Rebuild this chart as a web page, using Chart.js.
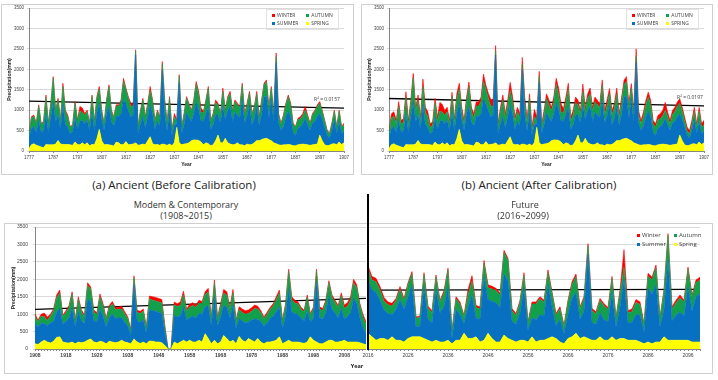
<!DOCTYPE html>
<html>
<head>
<meta charset="utf-8">
<script src="https://cdn.jsdelivr.net/npm/chart.js@4.4.0/dist/chart.umd.min.js"></script>
<style>
  body { margin: 0; background: #fff; font-family: 'Open Sans', sans-serif; }
  #page { position: relative; width: 718px; height: 380px; overflow: hidden; }
  canvas, .frame, .txt, .legend, .divider { position: absolute; }
  .frame { border: 1px solid #cfcfcf; box-sizing: border-box; }
  .txt { transform: translate(-50%, -50%); white-space: nowrap; color: #222; line-height: 1; }
  .legend { display: grid; grid-template-columns: auto auto; column-gap: 8px; row-gap: 3px;
            border: 1px solid #e2e2e2; padding: 3px 5px; color: #404040; line-height: 1; }
  .legend .sw { display: inline-block; width: 3px; height: 3px; margin-right: 2px; vertical-align: middle; }
  .divider { background: #000; }
</style>
</head>
<body>
<div id="page">
  <div class="frame" style="left:1px;top:4px;width:353px;height:171px"></div>
  <div class="frame" style="left:361px;top:4px;width:352px;height:171px"></div>
  <div class="frame" style="left:4px;top:223px;width:709px;height:151px"></div>

  <canvas id="chart-ancient" width="350" height="167" style="left:2px;top:5px"></canvas>
  <canvas id="chart-calib" width="350" height="167" style="left:362px;top:5px"></canvas>
  <canvas id="chart-modern" width="361" height="149" style="left:5px;top:224px"></canvas>
  <canvas id="chart-future" width="343" height="149" style="left:358px;top:224px"></canvas>

  <div class="legend" id="legend-ancient" style="left:266px;top:9px;font-size:5px"></div>
  <div class="legend" id="legend-calib" style="left:626px;top:9px;font-size:5px"></div>
  <div class="legend" id="legend-future" style="left:632px;top:229px;font-size:6px;border:none"></div>

  <div class="txt" style="left:327px;top:99px;font-size:5px;color:#404040">R² = 0.0157</div>
  <div class="txt" style="left:690px;top:97px;font-size:5px;color:#404040">R² = 0.0197</div>

  <div class="txt" style="left:174px;top:185px;font-size:11.5px">(a) Ancient (Before Calibration)</div>
  <div class="txt" style="left:539px;top:185px;font-size:11.5px">(b) Ancient (After Calibration)</div>
  <div class="txt" style="left:186px;top:204px;font-size:9px;color:#333">Modem &amp; Contemporary</div>
  <div class="txt" style="left:186px;top:214.5px;font-size:9px;color:#333">(1908~2015)</div>
  <div class="txt" style="left:525px;top:204px;font-size:9px;color:#333">Future</div>
  <div class="txt" style="left:523px;top:214.5px;font-size:9px;color:#333">(2016~2099)</div>
  <div class="txt" style="left:357px;top:367px;font-size:5.5px;font-weight:bold">Year</div>

  <div class="divider" style="left:367px;top:194px;width:2px;height:156px"></div>
</div>

<script>
// ===== Data (mm per season, stacked) =====
const ancientFrom = 1777, ancientTo = 1907;
const modernFrom = 1908, modernTo = 2015;
const futureFrom = 2016, futureTo = 2099;

const ancientSpring = [
  60, 150, 180, 140, 120, 100, 80, 160, 150, 150,
  150, 170, 260, 170, 160, 160, 160, 150, 140, 220,
  160, 150, 200, 150, 200, 130, 160, 150, 300, 530,
  250, 150, 160, 150, 140, 120, 220, 200, 150, 160,
  230, 150, 160, 170, 200, 140, 150, 170, 150, 250,
  350, 180, 150, 160, 140, 170, 160, 140, 170, 130,
  200, 580, 200, 150, 170, 180, 200, 250, 270, 270,
  260, 220, 150, 200, 180, 130, 150, 250, 390, 200,
  200, 310, 200, 170, 150, 160, 200, 150, 150, 130,
  170, 150, 160, 200, 260, 250, 280, 300, 310, 280,
  250, 200, 180, 150, 140, 150, 150, 160, 150, 130,
  130, 150, 160, 170, 160, 150, 140, 150, 160, 170,
  390, 250, 150, 130, 140, 170, 180, 150, 220, 160,
  200
];
const ancientSummer = [
  250, 410, 420, 320, 630, 360, 420, 750, 310, 690,
  1040, 550, 640, 360, 970, 500, 420, 280, 330, 600,
  370, 580, 550, 520, 560, 380, 780, 350, 630, 640,
  520, 360, 750, 930, 580, 490, 630, 650, 760, 1100,
  920, 840, 680, 720, 2150, 290, 520, 680, 410, 580,
  780, 730, 380, 560, 470, 1810, 750, 350, 820, 270,
  440, 100, 1480, 280, 470, 760, 630, 470, 640, 920,
  770, 520, 580, 710, 900, 400, 490, 640, 490, 490,
  910, 460, 790, 930, 570, 800, 680, 660, 1110, 560,
  690, 970, 480, 600, 840, 360, 630, 1020, 1040, 530,
  1040, 490, 1990, 540, 370, 450, 680, 820, 680, 330,
  250, 420, 430, 500, 640, 490, 370, 540, 560, 670,
  530, 520, 440, 270, 170, 340, 590, 280, 500, 270,
  290
];
const ancientAutumn = [
  100, 250, 250, 200, 350, 200, 200, 400, 200, 300,
  600, 250, 350, 200, 450, 300, 250, 150, 150, 350,
  200, 250, 200, 200, 200, 150, 400, 200, 350, 350,
  200, 150, 300, 500, 250, 200, 250, 250, 300, 450,
  350, 300, 250, 200, 100, 150, 300, 400, 250, 300,
  350, 300, 200, 250, 200, 150, 300, 200, 300, 100,
  200, 50, 150, 150, 250, 350, 300, 250, 300, 450,
  350, 200, 200, 300, 450, 200, 250, 300, 250, 200,
  350, 200, 300, 300, 250, 250, 250, 250, 350, 200,
  250, 300, 250, 250, 300, 200, 300, 300, 350, 250,
  250, 200, 150, 200, 150, 250, 300, 350, 300, 200,
  200, 200, 200, 200, 200, 200, 150, 200, 250, 250,
  250, 200, 150, 100, 100, 150, 200, 150, 250, 150,
  150
];
const ancientWinter = [
  20, 30, 30, 20, 30, 20, 20, 60, 20, 30,
  30, 30, 40, 30, 80, 40, 50, 20, 20, 40,
  30, 110, 100, 50, 40, 20, 30, 20, 50, 60,
  30, 20, 40, 40, 30, 30, 30, 30, 40, 70,
  40, 40, 80, 80, 30, 20, 30, 40, 30, 40,
  100, 40, 30, 30, 30, 60, 40, 30, 40, 20,
  80, 30, 40, 20, 30, 40, 40, 30, 40, 60,
  80, 110, 40, 40, 50, 30, 30, 60, 40, 30,
  80, 30, 40, 60, 30, 40, 40, 30, 50, 30,
  60, 40, 30, 40, 60, 30, 40, 40, 40, 30,
  40, 30, 80, 30, 20, 30, 40, 40, 40, 20,
  20, 30, 50, 50, 90, 40, 20, 30, 30, 40,
  40, 30, 20, 20, 20, 20, 30, 20, 30, 20,
  40
];
// after calibration the winter band is the part that grows
const calibWinter = [
  90, 100, 110, 90, 110, 90, 90, 140, 90, 100,
  110, 100, 120, 100, 180, 110, 130, 90, 90, 120,
  100, 210, 190, 120, 110, 90, 100, 90, 130, 140,
  100, 90, 110, 110, 100, 100, 100, 100, 110, 170,
  110, 120, 170, 180, 130, 90, 100, 120, 100, 110,
  200, 120, 100, 100, 100, 160, 110, 100, 110, 90,
  180, 100, 120, 90, 100, 110, 120, 100, 110, 140,
  160, 210, 110, 110, 130, 100, 100, 130, 110, 100,
  180, 100, 110, 140, 100, 110, 110, 100, 130, 100,
  140, 110, 100, 110, 140, 100, 110, 110, 120, 100,
  110, 100, 180, 100, 90, 100, 110, 110, 110, 90,
  90, 100, 130, 130, 190, 110, 90, 100, 100, 110,
  110, 100, 90, 90, 90, 90, 100, 90, 100, 90,
  110
];
const ancientTrend = [1220, 1050];
const calibTrend = [1285, 1105];

const modernSpring = [
  150, 130, 200, 250, 200, 170, 220, 330, 350, 200,
  180, 170, 200, 150, 200, 180, 200, 250, 290, 200,
  180, 220, 200, 150, 220, 200, 180, 200, 250, 200,
  180, 150, 290, 200, 160, 200, 150, 230, 220, 200,
  200, 180, 100, 0, 0, 200, 150, 200, 250, 200,
  250, 200, 200, 250, 200, 440, 300, 150, 250, 150,
  200, 390, 300, 200, 250, 150, 360, 250, 200, 300,
  250, 200, 300, 200, 150, 200, 200, 220, 250, 350,
  150, 200, 250, 200, 200, 200, 180, 160, 200, 350,
  250, 200, 150, 150, 200, 250, 250, 200, 200, 220,
  250, 200, 200, 200, 200, 180, 150, 120
];
const modernSummer = [
  590, 500, 540, 480, 470, 580, 570, 740, 810, 520,
  610, 720, 980, 490, 880, 630, 530, 1170, 1080, 610,
  600, 930, 740, 490, 670, 800, 700, 690, 650, 560,
  490, 230, 1550, 600, 610, 640, 300, 910, 880, 880,
  850, 840, 350, 0, 0, 770, 770, 750, 960, 640,
  650, 750, 690, 770, 800, 770, 940, 520, 1250, 520,
  720, 870, 890, 690, 1010, 440, 520, 550, 550, 470,
  580, 660, 550, 590, 520, 540, 680, 720, 820, 860,
  440, 740, 1480, 870, 820, 790, 710, 650, 890, 430,
  640, 1730, 750, 700, 840, 1250, 890, 840, 690, 960,
  610, 730, 850, 1250, 1110, 720, 470, 330
];
const modernAutumn = [
  200, 150, 200, 200, 150, 200, 300, 400, 450, 200,
  250, 300, 400, 150, 350, 250, 200, 400, 350, 250,
  200, 350, 300, 200, 300, 300, 250, 250, 250, 250,
  200, 150, 200, 250, 250, 250, 150, 300, 300, 300,
  300, 300, 150, 0, 0, 300, 300, 300, 350, 250,
  300, 300, 300, 300, 300, 350, 400, 200, 400, 200,
  300, 350, 350, 250, 350, 200, 250, 250, 250, 250,
  250, 300, 300, 250, 200, 250, 250, 300, 350, 400,
  200, 300, 500, 350, 300, 300, 250, 250, 400, 200,
  250, 300, 250, 250, 300, 400, 350, 300, 300, 350,
  300, 300, 350, 450, 450, 350, 300, 250
];
const modernWinter = [
  60, 50, 60, 100, 100, 50, 60, 80, 80, 50,
  60, 60, 60, 40, 70, 60, 50, 80, 60, 60,
  60, 80, 60, 40, 60, 60, 60, 60, 80, 60,
  50, 30, 60, 60, 60, 60, 40, 80, 100, 100,
  100, 100, 50, 0, 0, 80, 80, 100, 100, 60,
  80, 80, 60, 80, 60, 80, 100, 50, 80, 50,
  80, 100, 100, 60, 100, 40, 80, 100, 100, 100,
  100, 100, 80, 60, 50, 60, 60, 60, 80, 80,
  40, 60, 60, 80, 80, 60, 60, 50, 60, 40,
  60, 60, 60, 60, 60, 60, 60, 60, 60, 80,
  100, 100, 100, 100, 80, 60, 80, 80
];
const modernTrend = [1135, 1450];

const futureSpring = [
  450, 350, 250, 300, 300, 250, 350, 250, 250, 200,
  300, 350, 350, 350, 300, 250, 200, 250, 200, 200,
  250, 150, 250, 250, 450, 300, 300, 350, 200, 250,
  450, 300, 200, 200, 400, 300, 250, 200, 250, 250,
  200, 350, 200, 250, 250, 300, 350, 300, 200, 150,
  300, 350, 450, 300, 350, 300, 250, 250, 350, 250,
  250, 350, 250, 300, 300, 250, 250, 250, 200, 150,
  200, 150, 200, 200, 350, 250, 250, 250, 250, 250,
  250, 200, 200, 200
];
const futureSummer = [
  1555, 1330, 1380, 1090, 830, 770, 630, 890, 1160, 940,
  1190, 1460, 280, 310, 1480, 620, 540, 1465, 840, 1010,
  1510, 160, 890, 740, 280, 900, 1250, 540, 650, 1810,
  960, 1070, 1130, 990, 1770, 1640, 550, 510, 790, 1510,
  340, 540, 640, 740, 690, 1540, 880, 370, 650, 290,
  690, 1100, 1170, 550, 740, 2410, 500, 460, 690, 590,
  530, 1270, 380, 890, 1700, 490, 520, 740, 770, 340,
  1540, 1430, 1630, 430, 790, 2300, 550, 720, 820, 690,
  1540, 890, 1300, 1380
];
const futureAutumn = [
  300, 300, 300, 300, 250, 250, 250, 250, 300, 250,
  350, 350, 250, 250, 350, 300, 300, 350, 300, 400,
  500, 200, 300, 300, 200, 350, 400, 300, 300, 400,
  350, 350, 350, 350, 600, 600, 300, 250, 300, 350,
  200, 400, 450, 450, 400, 350, 350, 300, 300, 200,
  350, 400, 450, 300, 350, 250, 350, 300, 350, 400,
  350, 400, 250, 400, 350, 300, 300, 350, 300, 200,
  350, 400, 500, 250, 500, 700, 350, 350, 400, 400,
  500, 400, 400, 400
];
const futureWinter = [
  80, 100, 100, 100, 100, 80, 80, 60, 80, 60,
  60, 60, 40, 40, 60, 60, 60, 60, 60, 60,
  60, 30, 60, 60, 40, 150, 150, 60, 60, 80,
  80, 80, 60, 60, 60, 60, 60, 60, 60, 80,
  40, 60, 60, 60, 60, 80, 60, 50, 60, 40,
  60, 80, 80, 60, 60, 60, 60, 60, 60, 60,
  60, 60, 40, 100, 500, 60, 80, 80, 80, 40,
  80, 80, 80, 40, 60, 60, 60, 80, 80, 60,
  60, 60, 80, 80
];
const futureTrend = [1690, 1710];

const yMax = 3500, yStep = 500;
const legendUpper = ['WINTER', 'AUTUMN', 'SUMMER', 'SPRING'];
const legendLower = ['Winter', 'Autumn', 'Summer', 'Spring'];

// ===== Styles =====
const colors = {
  spring: '#ffff00',
  summer: '#0870c0',
  autumn: '#12a04c',
  winter: '#ff0000',
  grid: '#d9d9d9',
  axis: '#868686',
  text: '#404040'
};
const legendColors = [colors.winter, colors.autumn, colors.summer, colors.spring];

function yearLabels(from, to) {
  const out = [];
  for (let y = from; y <= to; y++) out.push(String(y));
  return out;
}

// trend drawn only between its two end values
function trendData(n, ends) {
  return Array.from({ length: n }, (_, i) => (i === 0 ? ends[0] : i === n - 1 ? ends[1] : null));
}

function season(label, data, color, fill) {
  return {
    label, data, fill,
    backgroundColor: color,
    borderColor: color,
    borderWidth: 0.6,
    pointRadius: 0,
    tension: 0,
    stack: 'seasons'
  };
}

function buildChart(id, o) {
  const labels = yearLabels(o.from, o.to);
  return new Chart(document.getElementById(id), {
    type: 'line',
    data: {
      labels,
      datasets: [
        season('Spring', o.spring, colors.spring, 'origin'),
        season('Summer', o.summer, colors.summer, '-1'),
        season('Autumn', o.autumn, colors.autumn, '-1'),
        season('Winter', o.winter, colors.winter, '-1'),
        {
          label: 'Trend',
          data: trendData(labels.length, o.trend),
          borderColor: '#000',
          borderWidth: 1.3,
          pointRadius: 0,
          fill: false,
          spanGaps: true,
          stack: 'trend'
        }
      ]
    },
    options: {
      responsive: false,
      animation: false,
      layout: { padding: o.padding },
      plugins: { legend: { display: false }, tooltip: { enabled: false } },
      scales: {
        x: {
          grid: { drawOnChartArea: false, tickLength: 2, color: colors.axis },
          border: { color: colors.axis },
          ticks: {
            autoSkip: false, maxRotation: 0, padding: 2,
            color: colors.text,
            font: { size: o.tickSize, weight: o.tickWeight },
            callback: (v, i) => (i % 10 === 0 ? labels[i] : (o.yearTicks ? '' : null))
          },
          title: {
            display: !!o.xTitle,
            text: 'Year',
            color: '#222',
            font: { size: 5, weight: 'bold' },
            padding: { top: 0, bottom: 4.5 }
          },
          afterFit: s => { s.height = o.xHeight; s.paddingLeft = 0; s.paddingRight = 0; }
        },
        y: {
          stacked: true,
          min: 0,
          max: yMax,
          grid: { color: colors.grid, tickLength: 2, drawTicks: o.showY },
          border: { display: o.showY, color: colors.axis },
          ticks: {
            display: o.showY, stepSize: yStep, padding: o.yPad,
            color: colors.text, font: { size: o.tickSize },
            callback: v => String(v)
          },
          title: {
            display: o.showY,
            text: 'Precipitation(mm)',
            color: '#222',
            font: { size: 5, weight: 'bold' },
            padding: { top: o.yTitlePad, bottom: 0 }
          },
          afterFit: s => { s.width = o.yWidth; s.paddingTop = 0; s.paddingBottom = 0; }
        }
      }
    }
  });
}

function buildLegend(id, names) {
  const el = document.getElementById(id);
  names.forEach((name, i) => {
    const item = document.createElement('div');
    const sw = document.createElement('span');
    sw.className = 'sw';
    sw.style.background = legendColors[i];
    item.appendChild(sw);
    item.appendChild(document.createTextNode(name));
    el.appendChild(item);
  });
}

const topPanel = {
  from: ancientFrom, to: ancientTo,
  padding: { left: 0, right: 8, top: 3, bottom: 0 },
  showY: true, yWidth: 27, yPad: 3, yTitlePad: 5,
  xHeight: 21, xTitle: true, tickSize: 4.5, tickWeight: 'normal', yearTicks: false
};

buildChart('chart-ancient', Object.assign({}, topPanel, {
  spring: ancientSpring, summer: ancientSummer, autumn: ancientAutumn,
  winter: ancientWinter, trend: ancientTrend
}));

buildChart('chart-calib', Object.assign({}, topPanel, {
  spring: ancientSpring, summer: ancientSummer, autumn: ancientAutumn,
  winter: calibWinter, trend: calibTrend
}));

buildChart('chart-modern', {
  from: modernFrom, to: modernTo,
  spring: modernSpring, summer: modernSummer, autumn: modernAutumn,
  winter: modernWinter, trend: modernTrend,
  padding: { left: 0, right: 0, top: 3, bottom: 0 },
  showY: true, yWidth: 30, yPad: 5, yTitlePad: 6,
  xHeight: 24, xTitle: false, tickSize: 5, tickWeight: 'bold', yearTicks: true
});

buildChart('chart-future', {
  from: futureFrom, to: futureTo,
  spring: futureSpring, summer: futureSummer, autumn: futureAutumn,
  winter: futureWinter, trend: futureTrend,
  padding: { left: 10, right: 1, top: 3, bottom: 0 },
  showY: false, yWidth: 0, yPad: 0, yTitlePad: 0,
  xHeight: 24, xTitle: false, tickSize: 5, tickWeight: 'normal', yearTicks: true
});

buildLegend('legend-ancient', legendUpper);
buildLegend('legend-calib', legendUpper);
buildLegend('legend-future', legendLower);
</script>
</body>
</html>
